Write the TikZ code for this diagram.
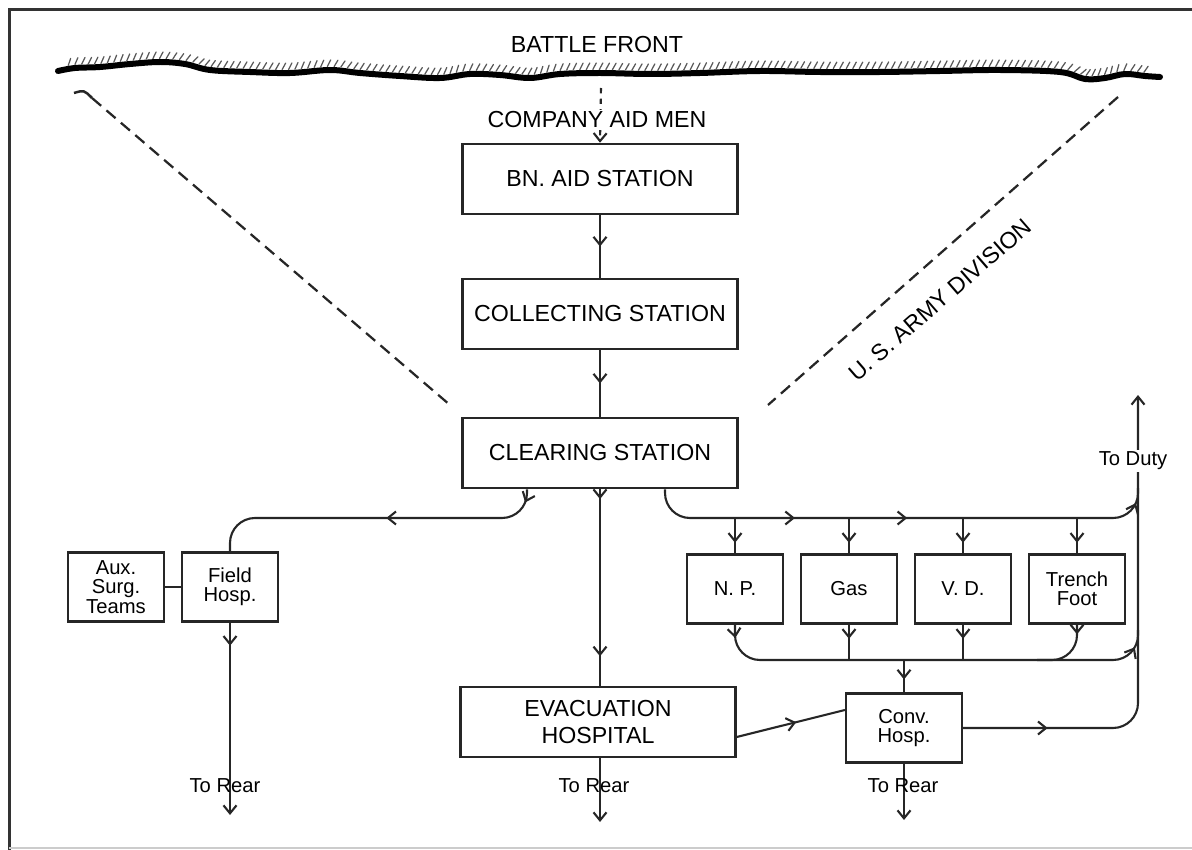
\documentclass[tikz,border=0pt]{standalone}
\usepackage{fontspec}
\setmainfont{Liberation Sans}
\usetikzlibrary{arrows.meta,decorations.markings}

\begin{document}
\begin{tikzpicture}[
    x=0.2mm, y=-0.2mm,
    station/.style={
        draw=black!85,
        line width=0.5mm,
        minimum width=55mm,
        minimum height=14mm,
        inner sep=0pt,
        align=center,
        font=\fontsize{13.2}{15.5}\selectfont
    },
    unit/.style={
        draw=black!85,
        line width=0.45mm,
        minimum width=19.2mm,
        minimum height=13.8mm,
        inner sep=0pt,
        align=center,
        font=\fontsize{11.5}{11}\selectfont
    },
    tag/.style={
        inner sep=1pt,
        font=\fontsize{13.2}{15.5}\selectfont
    },
    smalltag/.style={
        inner sep=1pt,
        font=\fontsize{11.5}{13}\selectfont
    },
    flow/.style={
        draw=black!85,
        line width=0.42mm
    },
    midarrow/.style={
        postaction={decorate, decoration={markings,
            mark=at position #1 with {\arrow{Straight Barb[length=1.6mm, width=2.6mm]}}}}
    },
    toend/.style={
        -{Straight Barb[length=1.6mm, width=2.6mm]}
    },
    divider/.style={
        draw=black!85,
        line width=0.45mm,
        dash pattern=on 2.4mm off 1.4mm
    },
    frontline/.style={
        draw=black,
        line width=1.2mm,
        line cap=round,
        postaction={decorate, decoration={markings,
            mark=between positions 0.01 and 0.99 step 1.3mm with {\draw[line width=0.25mm, black!65] (0,0.7mm) -- (0.7mm,2mm);}}}
    },
    pageframe/.style={
        draw=black!80,
        line width=0.6mm
    }
]

    \useasboundingbox (0,0) rectangle (1192,850);
    \draw[pageframe] (9,850) |- (1192,10);
    \draw[black!20, line width=0.3mm] (9,848) -- (1192,848);

    \draw[frontline] plot[smooth, tension=0.6] coordinates {
        (58,71) (75,68) (100,67) (130,64) (160,62) (185,64) (210,70) (250,72)
        (290,73) (330,70) (360,73) (400,76) (440,78) (470,74) (500,75) (530,78)
        (560,74) (600,73) (650,74) (700,73) (760,71) (820,72) (880,72) (940,71)
        (1000,70) (1060,72) (1085,79) (1105,78) (1125,74) (1145,76) (1160,77)};

    \coordinate (front) at (601,88);
    \coordinate (upper) at (0,518);
    \coordinate (lower) at (0,660);
    \coordinate (duty) at (1138,395);
    \coordinate (rearA) at (230,815);
    \coordinate (rearB) at (600,822);
    \coordinate (rearC) at (904,820);

    \node[station] (bn) at (600,179) {BN. AID STATION};
    \node[station] (coll) at (600,314) {COLLECTING STATION};
    \node[station] (clear) at (600,453) {CLEARING STATION};
    \node[station] (evac) at (598,722) {EVACUATION\\HOSPITAL};

    \node[unit] (aux) at (116,587) {Aux.\\Surg.\\Teams};
    \node[unit] (field) at (230,587) {Field\\Hosp.};

    \node[unit] (np) at (735,589) {N. P.};
    \node[unit] (gas) at (849,589) {Gas};
    \node[unit] (vd) at (963,589) {V. D.};
    \node[unit] (trench) at (1077,589) {Trench\\Foot};

    \node[unit, minimum width=23.2mm] (conv) at (904,728) {Conv.\\Hosp.};

    \draw[divider] (92,98) -- (450,405);
    \draw[black!85, line width=0.5mm] (74,93) .. controls (84,90) .. (92,98);
    \draw[divider] (1118,97) -- (768,405);
    \node[tag, rotate=41] (division) at (940,300) {U. S. ARMY DIVISION};

    \draw[flow, dashed, toend] (front) -- (bn.north);
    \draw[flow, midarrow=0.5] (bn) -- (coll);
    \draw[flow, midarrow=0.5] (coll) -- (clear);
    \draw[flow, midarrow=0.05, midarrow=0.85] (clear.south) -- (clear.south |- evac.north);

    \draw[flow, rounded corners=5mm, midarrow=0.04, midarrow=0.47]
        ([xshift=-14.6mm]clear.south) |- (field.north |- upper) -- (field.north);
    \draw[flow, rounded corners=5mm, midarrow=0.29, midarrow=0.51, midarrow=0.97]
        ([xshift=13mm]clear.south) |- (duty |- upper) -- ++(0,-30);

    \foreach \b in {np, gas, vd, trench}
        \draw[flow, midarrow=0.7] (\b.north |- upper) -- (\b.north);

    \foreach \b in {gas, vd}
        \draw[flow, midarrow=0.4] (\b.south) -- (\b.south |- lower);
    \draw[flow, rounded corners=5mm, midarrow=0.03, midarrow=0.96]
        (np.south) |- (duty |- lower) -- ++(0,-30);
    \draw[flow, rounded corners=5mm, midarrow=0.15]
        (trench.south) |- ([xshift=-8mm]trench.south |- lower);
    \draw[flow, midarrow=0.6] (conv.north |- lower) -- (conv.north);

    \draw[flow, rounded corners=5mm, midarrow=0.17, toend] (conv.east) -| (duty);
    \draw[flow, midarrow=0.55] ([yshift=-3mm]evac.east) -- ([yshift=3.6mm]conv.west);
    \draw[flow] (aux) -- (field);

    \draw[flow, midarrow=0.12, toend] (field) -- (rearA);
    \draw[flow, toend] (evac.south -| rearB) -- (rearB);
    \draw[flow, toend] (conv) -- (rearC);

    \node[tag] (battle) at (597,45) {BATTLE FRONT};
    \node[tag, fill=white] (aidmen) at (597,120) {COMPANY AID MEN};
    \node[smalltag, fill=white] (todutylabel) at (1133,461) {To Duty};
    \node[smalltag] (rearlabelA) at (225,786) {To Rear};
    \node[smalltag] (rearlabelB) at (594,786) {To Rear};
    \node[smalltag] (rearlabelC) at (903,786) {To Rear};
\end{tikzpicture}
\end{document}
